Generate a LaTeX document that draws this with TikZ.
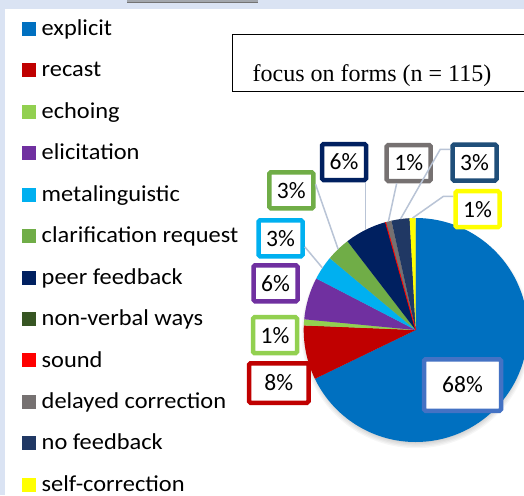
\documentclass[tikz,border=0pt]{standalone}
\usepackage{fontspec}
\setmainfont{Liberation Serif}
\newfontfamily\calib[FakeStretch=1.07]{Carlito}
\newfontfamily\calibl{Carlito}
\usetikzlibrary{calc}
\definecolor{cExp}{HTML}{0070C0}
\definecolor{cRec}{HTML}{C00000}
\definecolor{cEcho}{HTML}{92D050}
\definecolor{cEli}{HTML}{7030A0}
\definecolor{cMeta}{HTML}{00B0F0}
\definecolor{cClar}{HTML}{70AD47}
\definecolor{cPeer}{HTML}{002060}
\definecolor{cNonv}{HTML}{375623}
\definecolor{cSound}{HTML}{FF0000}
\definecolor{cDel}{HTML}{767171}
\definecolor{cNofb}{HTML}{203864}
\definecolor{cNofbB}{HTML}{1F4E79}
\definecolor{cSelf}{HTML}{FFFF00}
\definecolor{cExpB}{HTML}{4472C4}
\definecolor{bgblue}{HTML}{DAE3F3}
\definecolor{leader}{HTML}{B9C4D6}
\definecolor{barGray}{HTML}{A3A7AD}
\tikzset{
  legsq/.style={minimum size=14pt, inner sep=0pt, outer sep=0pt},
  legtext/.style={font=\calib\fontsize{22.8}{22.8}\selectfont, inner sep=0pt, anchor=base west},
  lab/.style={draw, line width=4.5pt, fill=white, font=\calibl\fontsize{23.5}{23.5}\selectfont,
              minimum width=44pt, minimum height=36pt, inner sep=0pt, rounded corners=1.5pt},
  leadline/.style={draw=leader, line width=1.5pt},
}
\begin{document}
\begin{tikzpicture}[x=1pt,y=-1pt]
\useasboundingbox (0,0) rectangle (524,495);
% background
\fill[bgblue] (0,0) rectangle (524,495);
\fill[white] (5,9) rectangle (524,495);
\fill[barGray] (127,0) rectangle (258,2.6);
\draw[black!55, line width=0.8pt] (127,2.6) -- (258,2.6);

% legend
\foreach \i/\c/\t in {0/cExp/explicit, 1/cRec/recast, 2/cEcho/echoing, 3/cEli/elicitation,
  4/cMeta/metalinguistic, 5/cClar/clarification request, 6/cPeer/peer feedback,
  7/cNonv/non-verbal ways, 8/cSound/sound, 9/cDel/delayed correction,
  10/cNofb/no feedback, 11/cSelf/self-correction}{
  \node[legsq, fill=\c] (sq\i) at (29,{28.8+41.45*\i}) {};
  \node[legtext] (leg\i) at (41.5,{35.4+41.45*\i}) {\t};
}

% title
\node[draw, line width=1.5pt, minimum width=300pt, minimum height=56.5pt, anchor=north west, inner sep=0pt] (titlebox) at (231.7,34) {};
\node[anchor=base west, inner sep=0pt, font=\fontsize{24}{24}\selectfont] (title) at (252.5,81.5) {focus on forms (n = 115)};

% pie
\begin{scope}[shift={(415.7,330)}, y=1pt]
  \foreach \k in {0,...,9}{
    \fill[black, opacity=0.035] (0.5,-3.5) circle ({103+1.3*\k});
  }
  \fill[cExp]  (0,0) -- (90:112) arc[start angle=90, end angle=-154.17, radius=112] -- cycle;
  \fill[cRec]  (0,0) -- (-154.17:112) arc[start angle=-154.17, end angle=-182.35, radius=112] -- cycle;
  \fill[cEcho] (0,0) -- (-182.35:112) arc[start angle=-182.35, end angle=-185.48, radius=112] -- cycle;
  \fill[cEli]  (0,0) -- (-185.48:112) arc[start angle=-185.48, end angle=-207.39, radius=112] -- cycle;
  \fill[cMeta] (0,0) -- (-207.39:112) arc[start angle=-207.39, end angle=-219.91, radius=112] -- cycle;
  \fill[cClar] (0,0) -- (-219.91:112) arc[start angle=-219.91, end angle=-232.43, radius=112] -- cycle;
  \fill[cPeer] (0,0) -- (-232.43:112) arc[start angle=-232.43, end angle=-254.35, radius=112] -- cycle;
  \fill[cDel]  (0,0) -- (-254.35:112) arc[start angle=-254.35, end angle=-257.48, radius=112] -- cycle;
  \fill[cNofb] (0,0) -- (-257.48:112) arc[start angle=-257.48, end angle=-266.87, radius=112] -- cycle;
  \fill[cSelf] (0,0) -- (-266.87:112) arc[start angle=-266.87, end angle=-270, radius=112] -- cycle;
  \draw[cSound, line width=0.9pt] (0,0) -- (-254.35:112);
  \coordinate (pMeta) at (-213.65:112);
  \coordinate (pClar) at (-226.17:112);
  \coordinate (pPeer) at (-243.39:112);
  \coordinate (pDel)  at (-255.9:112);
  \coordinate (pNofb) at (-262.2:112);
  \coordinate (pSelf) at (-268.4:112);
\end{scope}

% labels
\node[lab, draw=cPeer]  (lPeer) at (344,162) {6\%};
\node[lab, draw=cDel]   (lDel)  at (408.7,163) {1\%};
\node[lab, draw=cNofbB] (lNofb) at (474.5,162.5) {3\%};
\node[lab, draw=cClar]  (lClar) at (291.3,190.3) {3\%};
\node[lab, draw=cSelf]  (lSelf) at (477.5,209.2) {1\%};
\node[lab, draw=cMeta]  (lMeta) at (280.5,238.3) {3\%};
\node[lab, draw=cEli]   (lEli)  at (275.5,283.3) {6\%};
\node[lab, draw=cEcho]  (lEcho) at (275,335.2) {1\%};
\node[lab, draw=cRec, minimum width=59.5pt, minimum height=39.5pt] (lRec) at (278.8,383) {8\%};
\node[lab, draw=cExpB, minimum width=77pt, minimum height=51.5pt] (lExp) at (462.5,385) {68\%};

% leader lines
\draw[leadline] (lPeer.south -| pPeer) -- (pPeer);
\draw[leadline] ([xshift=-12pt]lDel.south) -- (pDel);
\draw[leadline] ([shift={(0,7)}]lNofb.north west) -- ++(-10,0) -- (pNofb);
\draw[leadline] ([shift={(0,7.5)}]lSelf.north west) -- ++(-10,0) -- (pSelf);
\draw[leadline] ([shift={(0,-6)}]lClar.east) -- (pClar);
\draw[leadline] ([shift={(0,8.5)}]lMeta.east) -- (pMeta);
\end{tikzpicture}
\end{document}
